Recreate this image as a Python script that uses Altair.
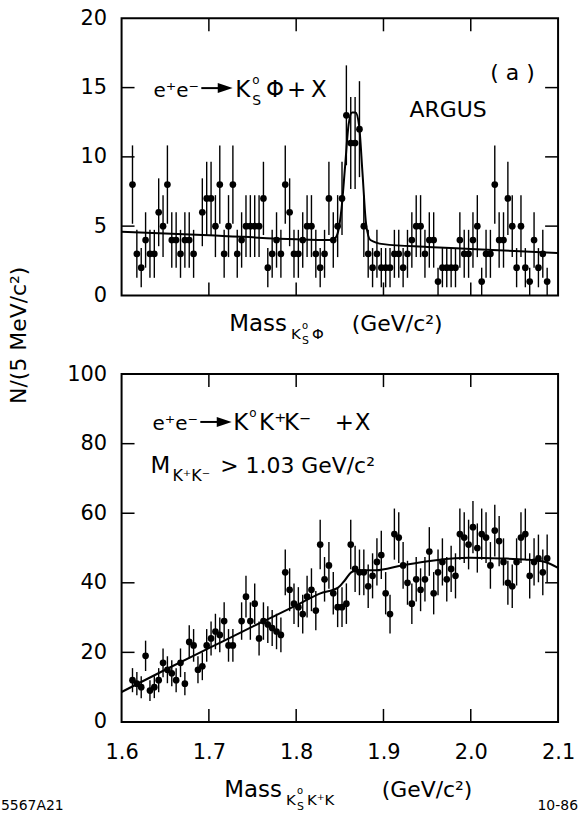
import altair as alt
import pandas as pd

FONT = "DejaVu Sans"

# ---------------- data ----------------
# (a) K0s Phi mass spectrum, 5 MeV bins (bin centres)
top_mass = [1.6125, 1.6175, 1.6225, 1.6275, 1.6325, 1.6375, 1.6425, 1.6475, 1.6525, 1.6575,
            1.6625, 1.6675, 1.6725, 1.6775, 1.6825,
            1.6925, 1.6975, 1.7025, 1.7075, 1.7125, 1.7175, 1.7225, 1.7275, 1.7325, 1.7375,
            1.7425, 1.7475, 1.7525, 1.7575, 1.7625, 1.7675, 1.7725, 1.7775, 1.7825, 1.7875,
            1.7925, 1.7975, 1.8025, 1.8075, 1.8125, 1.8175, 1.8225, 1.8275, 1.8325, 1.8375,
            1.8425, 1.8475, 1.8525, 1.8575, 1.8625, 1.8675, 1.8725, 1.8775, 1.8825, 1.8875,
            1.8925, 1.8975, 1.9025, 1.9075, 1.9125, 1.9175, 1.9225, 1.9275, 1.9325, 1.9375,
            1.9425, 1.9475, 1.9525, 1.9575, 1.9625, 1.9675, 1.9725, 1.9775, 1.9825, 1.9875,
            1.9925, 1.9975, 2.0025, 2.0075, 2.0125, 2.0175, 2.0225, 2.0275, 2.0325, 2.0375,
            2.0425, 2.0475, 2.0525, 2.0575, 2.0625, 2.0675, 2.0725, 2.0775, 2.0825, 2.0875]
top_counts = [8, 3, 2, 4, 3, 3, 6, 5, 8, 4, 4, 3, 4, 4, 3,
              6, 7, 7, 5, 8, 3, 5, 8, 3, 4,
              5, 5, 5, 5, 7, 2, 3, 4, 3, 8,
              6, 3, 3, 4, 5, 5, 3, 2, 3, 7,
              4, 5, 7, 13, 11, 11, 12, 5, 3, 2,
              3, 2, 2, 2, 3, 3, 2, 3, 4, 5,
              5, 3, 4, 4, 1, 2, 2, 2, 2, 4,
              3, 3, 4, 5, 1, 3, 3, 8, 4, 4,
              7, 5, 2, 5, 2, 1, 4, 2, 3, 1]
top_fit_mass = [1.600, 1.700, 1.800, 1.838, 1.844, 1.848, 1.852, 1.856, 1.860, 1.864,
                1.868, 1.872, 1.876, 1.880, 1.885, 1.900, 1.950, 2.000, 2.050, 2.100]
top_fit_n = [4.6, 4.35, 4.05, 4.0, 4.1, 4.6, 6.3, 9.3, 12.3, 13.2,
             13.2, 12.3, 8.8, 5.2, 4.0, 3.7, 3.5, 3.35, 3.2, 3.05]

# (b) K0 K+ K- mass spectrum
bot_mass = [1.6125, 1.6175, 1.6225, 1.6275, 1.6325, 1.6375, 1.6425, 1.6475, 1.6525, 1.6575,
            1.6625, 1.6675, 1.6725, 1.6775, 1.6825, 1.6875, 1.6925, 1.6975, 1.7025, 1.7075,
            1.7125, 1.7175, 1.7225, 1.7275,
            1.7375, 1.7425, 1.7475, 1.7525, 1.7575, 1.7625, 1.7675, 1.7725, 1.7775, 1.7825,
            1.7875, 1.7925, 1.7975, 1.8025, 1.8075, 1.8125, 1.8175, 1.8225, 1.8275, 1.8325,
            1.8375, 1.8425, 1.8475, 1.8525, 1.8575,
            1.8625, 1.8675, 1.8725, 1.8775, 1.8825, 1.8875, 1.8925, 1.8975, 1.9025, 1.9075,
            1.9125, 1.9175, 1.9225, 1.9275, 1.9325, 1.9375, 1.9425, 1.9475,
            1.9525, 1.9575, 1.9625, 1.9675, 1.9725, 1.9775, 1.9825, 1.9875, 1.9925, 1.9975,
            2.0025, 2.0075, 2.0125, 2.0175, 2.0225, 2.0275, 2.0325, 2.0375, 2.0425, 2.0475,
            2.0525, 2.0575, 2.0625, 2.0675, 2.0725, 2.0775, 2.0825, 2.0875]
bot_counts = [12, 11, 10, 19, 9, 10, 12, 17, 15, 14,
              12, 17, 11, 23, 22, 15, 16, 22, 24, 26,
              25, 29, 22, 22,
              29, 36, 29, 34, 24, 29, 28, 27, 26, 25,
              43, 38, 34, 33, 31, 36, 38, 32, 51, 41,
              45, 37, 33, 33, 34,
              51, 44, 43, 43, 39, 42, 46, 48, 37, 31,
              54, 53, 45, 40, 34, 41, 38, 41,
              49, 37, 43, 46, 41, 44, 42, 54, 53, 51,
              56, 50, 54, 53, 45, 55, 52, 46, 40, 39,
              46, 53, 54, 42, 46, 47, 43, 47]
bot_fit_mass = [1.600, 1.650, 1.700, 1.750, 1.800, 1.827, 1.848, 1.856, 1.863, 1.870,
                1.891, 1.921, 1.960, 1.998, 2.035, 2.062, 2.085, 2.100]
bot_fit_n = [8.6, 15.0, 21.2, 27.4, 33.5, 36.9, 38.6, 40.8, 43.0, 43.6,
             43.6, 45.0, 46.5, 47.2, 47.0, 46.7, 46.0, 44.3]

x_ticks = [1.7, 1.8, 1.9, 2.0]
x_labels = [1.6, 1.7, 1.8, 1.9, 2.0, 2.1]
top_yticks = [5, 10, 15]
top_ylabels = [0, 5, 10, 15, 20]
bot_yticks = [20, 40, 60, 80]
bot_ylabels = [0, 20, 40, 60, 80, 100]

W = 438
H_TOP = 278
H_BOT = 349
TICK = 13

dummy = pd.DataFrame({"d": [0]})


def txt(s, x, y, size, align="left", baseline="alphabetic", angle=None):
    kw = dict(text=s, fontSize=size, font=FONT, align=align, baseline=baseline, color="black")
    if angle is not None:
        kw["angle"] = angle
    return alt.Chart(dummy).mark_text(**kw).encode(x=alt.value(x), y=alt.value(y))


def arrow(x0, x1, y):
    line = alt.Chart(dummy).mark_rule(color="black", strokeWidth=2).encode(
        x=alt.value(x0), x2=alt.value(x1), y=alt.value(y))
    head = alt.Chart(dummy).mark_point(
        shape="M -1 -0.67 L 1 0 L -1 0.67 Z", filled=True, color="black", opacity=1,
        size=225, strokeWidth=0).encode(x=alt.value(x1 + 7), y=alt.value(y))
    return [line, head]


def panel(mass, counts, fmass, fn, ymax, ylabels, yticks, h, xaxis):
    xs = alt.Scale(domain=[1.6, 2.1], nice=False, zero=False)
    ys = alt.Scale(domain=[0, ymax], nice=False, zero=False)
    yaxis = alt.Axis(values=ylabels, ticks=False, domain=False, grid=False, title=None,
                     labelFont=FONT, labelFontSize=21, labelColor="black",
                     labelPadding=15, labelFlush=False, labelOverlap=False)
    df = pd.DataFrame({"mass": mass, "n": counts})
    base = alt.Chart(df).transform_calculate(
        lo="datum.n - sqrt(datum.n)", hi="datum.n + sqrt(datum.n)",
        ml="datum.mass - 0.0025", mh="datum.mass + 0.0025")
    X = alt.X("mass:Q", scale=xs, axis=xaxis)
    Y = alt.Y("n:Q", scale=ys, axis=yaxis)
    ebar = base.mark_rule(color="black", strokeWidth=1.4).encode(
        x=X, y=alt.Y("lo:Q", scale=ys, axis=yaxis), y2="hi:Q")
    xbar = base.mark_rule(color="black", strokeWidth=1.4).encode(
        x=alt.X("ml:Q", scale=xs, axis=xaxis), x2="mh:Q", y=Y)
    pts = base.mark_circle(size=45, color="black", opacity=1).encode(x=X, y=Y)
    fit = alt.Chart(pd.DataFrame({"mass": fmass, "n": fn})).mark_line(
        color="black", strokeWidth=2, interpolate="monotone").encode(x=X, y=Y)
    xt = alt.Chart(pd.DataFrame({"mass": x_ticks}))
    yt = alt.Chart(pd.DataFrame({"n": yticks}))
    t_top = xt.mark_rule(color="black", strokeWidth=1.5).encode(
        x=X, y=alt.value(0), y2=alt.value(TICK))
    t_bot = xt.mark_rule(color="black", strokeWidth=1.5).encode(
        x=X, y=alt.value(h - TICK), y2=alt.value(h))
    t_left = yt.mark_rule(color="black", strokeWidth=1.5).encode(
        y=Y, x=alt.value(0), x2=alt.value(TICK))
    t_right = yt.mark_rule(color="black", strokeWidth=1.5).encode(
        y=Y, x=alt.value(W - TICK), x2=alt.value(W))
    return [ebar, xbar, pts, fit, t_top, t_bot, t_left, t_right]


# ---------------- top panel ----------------
top_layers = panel(top_mass, top_counts, top_fit_mass, top_fit_n, 20,
                   top_ylabels, top_yticks, H_TOP, None)
top_layers += [txt("e⁺e⁻", 32, 79, 20)] + arrow(80, 97, 70)
top_layers += [
    txt("K", 114, 79, 23), txt("o", 131, 66, 12), txt("S", 131, 87, 14),
    txt("Φ", 145, 79, 23), txt("+", 166, 79, 23), txt("X", 190, 79, 23),
    txt("( a )", 370, 62, 22), txt("ARGUS", 289, 99, 22),
    # x title
    txt("Mass", 108, 314, 23), txt("K", 170, 322, 15), txt("o", 181, 312, 10),
    txt("S", 181, 327, 11), txt("Φ", 191, 322, 15), txt("(GeV/c²)", 231, 314, 22),
    # y title
    txt("N/(5 MeV/c²)", -103, 318, 22, align="center", baseline="middle", angle=270),
]
top = alt.layer(*top_layers).properties(width=W, height=H_TOP)

# ---------------- bottom panel ----------------
xaxis_bot = alt.Axis(values=x_labels, format=".1f", ticks=False, domain=False, grid=False,
                     title=None, labelFont=FONT, labelFontSize=21, labelColor="black",
                     labelPadding=20, labelFlush=False, labelOverlap=False)
bot_layers = panel(bot_mass, bot_counts, bot_fit_mass, bot_fit_n, 100,
                   bot_ylabels, bot_yticks, H_BOT, xaxis_bot)
bot_layers += [txt("e⁺e⁻", 31, 56, 20)] + arrow(79, 96, 48)
bot_layers += [
    txt("K", 112, 56, 23), txt("o", 128, 43, 12), txt("K⁺", 138, 56, 23),
    txt("K⁻", 163, 56, 23), txt("+", 214, 56, 23), txt("X", 234, 56, 23),
    txt("M", 29, 99, 23), txt("K⁺K⁻", 51, 107, 16), txt("> 1.03 GeV/c²", 99, 99, 22),
    # x title
    txt("Mass", 103, 424, 23), txt("K", 165, 432, 15), txt("o", 176, 421, 10),
    txt("S", 176, 437, 11), txt("K⁺K", 186, 432, 15), txt("(GeV/c²)", 261, 424, 22),
    # footer
    txt("5567A21", -121, 437, 14), txt("10-86", 458, 437, 14, align="right"),
]
bot = alt.layer(*bot_layers).properties(width=W, height=H_BOT)

chart = alt.vconcat(top, bot, spacing=79, bounds="flush").properties(
    padding={"left": 0, "top": 5, "right": 0, "bottom": 0}
).configure_view(stroke="black", strokeWidth=2)

chart.save("out.html", embed_options={"renderer": "svg", "actions": False})
